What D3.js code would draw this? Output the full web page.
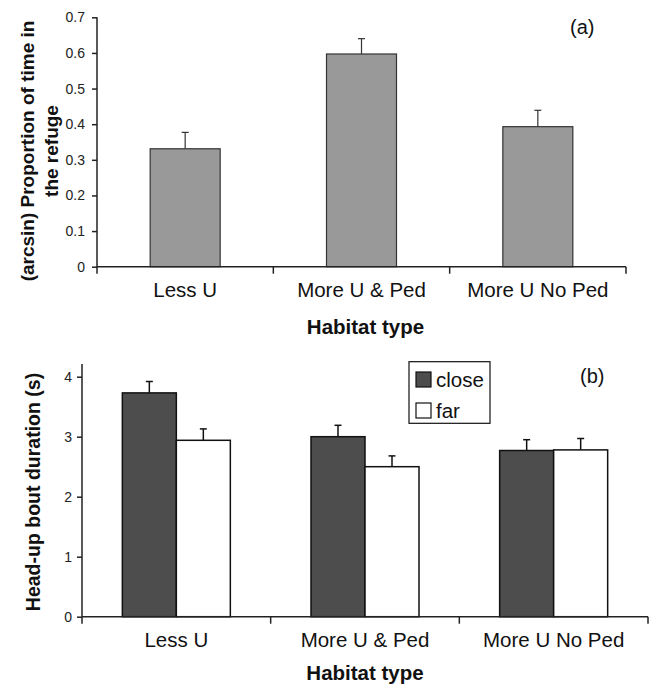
<!DOCTYPE html>
<html><head><meta charset="utf-8">
<script src="https://cdn.jsdelivr.net/npm/d3@7/dist/d3.min.js"></script>
<style>body{margin:0;background:#fff}svg{display:block;font-family:"Liberation Sans",Arial,sans-serif}</style>
</head><body><svg id="c" width="650" height="684"></svg>
<script>
const categories = ["Less U", "More U & Ped", "More U No Ped"];
const refugeMean = [0.331, 0.597, 0.393];
const refugeErr  = [0.046, 0.043, 0.046];
const series = ["close", "far"];
const closeMean = [3.73, 3.00, 2.77];
const closeErr  = [0.19, 0.19, 0.18];
const farMean   = [2.94, 2.50, 2.78];
const farErr    = [0.19, 0.18, 0.19];
const ticksA = [0, 0.1, 0.2, 0.3, 0.4, 0.5, 0.6, 0.7];
const ticksB = [0, 1, 2, 3, 4];

const svg = d3.select("#c");
const ink = "#222";
const FONT = "Liberation Sans, Arial, sans-serif";

// ---------- Panel (a)
{
  const x0 = 97, x1 = 626, yTop = 17.3, yBot = 266.7;
  const x = d3.scaleBand().domain(categories).range([x0, x1]);
  const y = d3.scaleLinear().domain([0, 0.7]).range([yBot, yTop]);
  const g = svg.append("g");
  const bw = 70;
  const data = categories.map((c, i) => ({c, v: refugeMean[i], e: refugeErr[i]}));
  data.forEach(d => {
    const cx = x(d.c) + x.bandwidth() / 2;
    g.append("line").attr("x1", cx).attr("x2", cx).attr("y1", y(d.v)).attr("y2", y(d.v + d.e)).attr("stroke", "#333").attr("stroke-width", 1.2);
    g.append("line").attr("x1", cx - 3.5).attr("x2", cx + 3.5).attr("y1", y(d.v + d.e)).attr("y2", y(d.v + d.e)).attr("stroke", "#333").attr("stroke-width", 1.2);
  });
  g.selectAll("rect").data(data).join("rect")
    .attr("x", d => x(d.c) + x.bandwidth() / 2 - bw / 2)
    .attr("width", bw)
    .attr("y", d => y(d.v))
    .attr("height", d => yBot - y(d.v))
    .attr("fill", "#999999").attr("stroke", "#333").attr("stroke-width", 1.2);
  const ya = g.append("g").attr("transform", `translate(${x0},0)`)
    .call(d3.axisLeft(y).tickValues(ticksA).tickSize(5).tickSizeOuter(0).tickFormat(d => d === 0 ? "0" : d3.format(".1f")(d)));
  ya.select(".domain").attr("stroke", ink).attr("stroke-width", 1.5).attr("d", `M0,${yTop}V${yBot + 7}`);
  ya.selectAll(".tick line").attr("stroke", ink).attr("stroke-width", 1.5);
  ya.selectAll(".tick text").attr("font-size", 14).attr("fill", "#222").attr("x", -12).attr("font-family", FONT);
  const xa = g.append("g").attr("transform", `translate(0,${yBot})`);
  xa.append("line").attr("x1", x0).attr("x2", x1).attr("y1", 0).attr("y2", 0).attr("stroke", ink).attr("stroke-width", 1.5);
  categories.forEach((c, i) => {
    const bx = x(c) + x.bandwidth();
    xa.append("line").attr("x1", bx).attr("x2", bx).attr("y1", 0).attr("y2", 7).attr("stroke", ink).attr("stroke-width", 1.5);
    xa.append("text").attr("x", x(c) + x.bandwidth() / 2).attr("y", 30).attr("text-anchor", "middle").attr("font-size", 20.5).attr("fill", "#111").text(c);
  });
  g.append("text").attr("x", (x0 + x1) / 2 + 4).attr("y", 334).attr("text-anchor", "middle").attr("font-size", 20.5).attr("font-weight", "bold").attr("fill", "#111").text("Habitat type");
  const t = g.append("text").attr("transform", `translate(34,151) rotate(-90)`).attr("text-anchor", "middle").attr("font-size", 19).attr("font-weight", "bold").attr("fill", "#111");
  t.append("tspan").attr("x", 0).attr("dy", 0).text("(arcsin) Proportion of time in");
  t.append("tspan").attr("x", 0).attr("dy", 24).text("the refuge");
  g.append("text").attr("x", 570).attr("y", 34).attr("font-size", 20).attr("fill", "#111").text("(a)");
}

// ---------- Panel (b)
{
  const x0 = 82, x1 = 648, yBot = 616.7, yTop = 376.7;
  const x = d3.scaleBand().domain(categories).range([x0, x1]);
  const y = d3.scaleLinear().domain([0, 4]).range([yBot, yTop]);
  const xs = d3.scaleBand().domain(series).range([0, 108]);
  const fills = {close: "#4d4d4d", far: "#ffffff"};
  const g = svg.append("g");
  const data = [];
  categories.forEach((c, i) => {
    data.push({c, s: "close", v: closeMean[i], e: closeErr[i]});
    data.push({c, s: "far", v: farMean[i], e: farErr[i]});
  });
  const bx = d => x(d.c) + x.bandwidth() / 2 - 54 + xs(d.s);
  data.forEach(d => {
    const cx = bx(d) + xs.bandwidth() / 2;
    g.append("line").attr("x1", cx).attr("x2", cx).attr("y1", y(d.v)).attr("y2", y(d.v + d.e)).attr("stroke", "#111").attr("stroke-width", 1.5);
    g.append("line").attr("x1", cx - 3.5).attr("x2", cx + 3.5).attr("y1", y(d.v + d.e)).attr("y2", y(d.v + d.e)).attr("stroke", "#111").attr("stroke-width", 1.5);
  });
  g.selectAll("rect.bar").data(data).join("rect").attr("class", "bar")
    .attr("x", bx).attr("width", xs.bandwidth())
    .attr("y", d => y(d.v)).attr("height", d => yBot - y(d.v))
    .attr("fill", d => fills[d.s]).attr("stroke", "#111").attr("stroke-width", 1.5);
  const ya = g.append("g").attr("transform", `translate(${x0},0)`)
    .call(d3.axisLeft(y).tickValues(ticksB).tickSize(5).tickSizeOuter(0).tickFormat(d3.format("d")));
  ya.select(".domain").attr("stroke", ink).attr("stroke-width", 1.5).attr("d", `M0,364V${yBot + 7}`);
  ya.selectAll(".tick line").attr("stroke", ink).attr("stroke-width", 1.5);
  ya.selectAll(".tick text").attr("font-size", 14).attr("fill", "#222").attr("x", -10).attr("font-family", FONT);
  const xa = g.append("g").attr("transform", `translate(0,${yBot})`);
  xa.append("line").attr("x1", x0).attr("x2", x1).attr("y1", 0).attr("y2", 0).attr("stroke", ink).attr("stroke-width", 1.5);
  categories.forEach(c => {
    const ex = x(c) + x.bandwidth();
    xa.append("line").attr("x1", ex).attr("x2", ex).attr("y1", 0).attr("y2", 7).attr("stroke", ink).attr("stroke-width", 1.5);
    xa.append("text").attr("x", x(c) + x.bandwidth() / 2).attr("y", 30.5).attr("text-anchor", "middle").attr("font-size", 20.5).attr("fill", "#111").text(c);
  });
  g.append("text").attr("x", 365).attr("y", 680).attr("text-anchor", "middle").attr("font-size", 20.5).attr("font-weight", "bold").attr("fill", "#111").text("Habitat type");
  g.append("text").attr("transform", `translate(40,492) rotate(-90)`).attr("text-anchor", "middle").attr("font-size", 19.5).attr("font-weight", "bold").attr("fill", "#111").text("Head-up bout duration (s)");
  g.append("text").attr("x", 580).attr("y", 383).attr("font-size", 20).attr("fill", "#111").text("(b)");
  const lg = g.append("g");
  lg.append("rect").attr("x", 409).attr("y", 361.7).attr("width", 81).attr("height", 61.6).attr("fill", "#fff").attr("stroke", "#111").attr("stroke-width", 1.2);
  series.forEach((s, i) => {
    const yy = 372 + i * 31;
    lg.append("rect").attr("x", 416).attr("y", yy).attr("width", 15).attr("height", 15).attr("fill", fills[s]).attr("stroke", "#111").attr("stroke-width", 1.2);
    lg.append("text").attr("x", 436).attr("y", yy + 15).attr("font-size", 20.5).attr("fill", "#111").text(s);
  });
}
</script></body></html>
